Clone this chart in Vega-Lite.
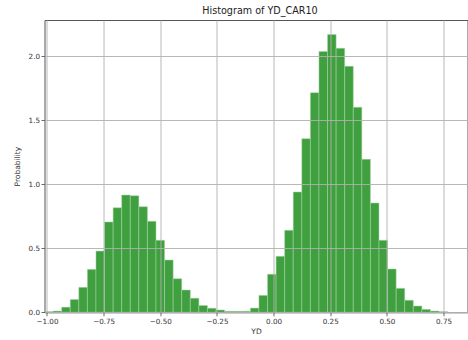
{
  "$schema": "https://vega.github.io/schema/vega-lite/v6.json",
  "autosize": "none",
  "width": 423,
  "height": 292.3,
  "padding": {"left": 44.5, "top": 20, "right": 0.5, "bottom": 27.7},
  "title": {
    "text": "Histogram of YD_CAR10",
    "font": "DejaVu Sans",
    "fontSize": 9.6,
    "fontWeight": "normal",
    "color": "#222222",
    "baseline": "alphabetic",
    "offset": 5,
    "dx": 4,
    "dy": 9
  },
  "data": {
    "values": [
      {"bin_start": -1.01100, "bin_end": -0.97315, "density": 0.005},
      {"bin_start": -0.97315, "bin_end": -0.93530, "density": 0.010},
      {"bin_start": -0.93530, "bin_end": -0.89745, "density": 0.040},
      {"bin_start": -0.89745, "bin_end": -0.85960, "density": 0.100},
      {"bin_start": -0.85960, "bin_end": -0.82175, "density": 0.195},
      {"bin_start": -0.82175, "bin_end": -0.78390, "density": 0.335},
      {"bin_start": -0.78390, "bin_end": -0.74605, "density": 0.478},
      {"bin_start": -0.74605, "bin_end": -0.70820, "density": 0.705},
      {"bin_start": -0.70820, "bin_end": -0.67035, "density": 0.816},
      {"bin_start": -0.67035, "bin_end": -0.63250, "density": 0.915},
      {"bin_start": -0.63250, "bin_end": -0.59465, "density": 0.910},
      {"bin_start": -0.59465, "bin_end": -0.55680, "density": 0.824},
      {"bin_start": -0.55680, "bin_end": -0.51895, "density": 0.710},
      {"bin_start": -0.51895, "bin_end": -0.48110, "density": 0.562},
      {"bin_start": -0.48110, "bin_end": -0.44325, "density": 0.408},
      {"bin_start": -0.44325, "bin_end": -0.40540, "density": 0.262},
      {"bin_start": -0.40540, "bin_end": -0.36755, "density": 0.174},
      {"bin_start": -0.36755, "bin_end": -0.32970, "density": 0.110},
      {"bin_start": -0.32970, "bin_end": -0.29185, "density": 0.053},
      {"bin_start": -0.29185, "bin_end": -0.25400, "density": 0.032},
      {"bin_start": -0.25400, "bin_end": -0.21615, "density": 0.018},
      {"bin_start": -0.21615, "bin_end": -0.17830, "density": 0.008},
      {"bin_start": -0.17830, "bin_end": -0.14045, "density": 0.008},
      {"bin_start": -0.14045, "bin_end": -0.10260, "density": 0.009},
      {"bin_start": -0.10260, "bin_end": -0.06475, "density": 0.033},
      {"bin_start": -0.06475, "bin_end": -0.02690, "density": 0.132},
      {"bin_start": -0.02690, "bin_end": 0.01095, "density": 0.297},
      {"bin_start": 0.01095, "bin_end": 0.04880, "density": 0.437},
      {"bin_start": 0.04880, "bin_end": 0.08665, "density": 0.640},
      {"bin_start": 0.08665, "bin_end": 0.12450, "density": 0.939},
      {"bin_start": 0.12450, "bin_end": 0.16235, "density": 1.355},
      {"bin_start": 0.16235, "bin_end": 0.20020, "density": 1.714},
      {"bin_start": 0.20020, "bin_end": 0.23805, "density": 2.036},
      {"bin_start": 0.23805, "bin_end": 0.27590, "density": 2.168},
      {"bin_start": 0.27590, "bin_end": 0.31375, "density": 2.060},
      {"bin_start": 0.31375, "bin_end": 0.35160, "density": 1.920},
      {"bin_start": 0.35160, "bin_end": 0.38945, "density": 1.600},
      {"bin_start": 0.38945, "bin_end": 0.42730, "density": 1.194},
      {"bin_start": 0.42730, "bin_end": 0.46515, "density": 0.853},
      {"bin_start": 0.46515, "bin_end": 0.50300, "density": 0.562},
      {"bin_start": 0.50300, "bin_end": 0.54085, "density": 0.338},
      {"bin_start": 0.54085, "bin_end": 0.57870, "density": 0.187},
      {"bin_start": 0.57870, "bin_end": 0.61655, "density": 0.094},
      {"bin_start": 0.61655, "bin_end": 0.65440, "density": 0.049},
      {"bin_start": 0.65440, "bin_end": 0.69225, "density": 0.023},
      {"bin_start": 0.69225, "bin_end": 0.73010, "density": 0.010},
      {"bin_start": 0.73010, "bin_end": 0.76795, "density": 0.005}
    ]
  },
  "mark": {
    "type": "bar",
    "fill": "#40a040",
    "stroke": "#a8d4a8",
    "strokeWidth": 0.5
  },
  "encoding": {
    "x": {
      "field": "bin_start",
      "type": "quantitative",
      "title": "YD",
      "scale": {"domain": [-1.011, 0.8557], "nice": false, "zero": false},
      "axis": {
        "values": [-1, -0.75, -0.5, -0.25, 0, 0.25, 0.5, 0.75],
        "format": ".2f",
        "zindex": 1
      }
    },
    "x2": {"field": "bin_end"},
    "y": {
      "field": "density",
      "type": "quantitative",
      "title": "Probability",
      "scale": {"domain": [0, 2.281], "nice": false},
      "axis": {
        "values": [0, 0.5, 1, 1.5, 2],
        "format": ".1f",
        "zindex": 1
      }
    },
    "y2": {"datum": 0}
  },
  "config": {
    "view": {"stroke": "#555555", "strokeWidth": 1},
    "axis": {
      "domain": false,
      "grid": true,
      "gridColor": "#b0b0b0",
      "gridWidth": 0.9,
      "tickColor": "#444444",
      "tickSize": 3.5,
      "tickWidth": 0.8,
      "labelFont": "DejaVu Sans",
      "labelFontSize": 7.2,
      "labelColor": "#333333",
      "labelPadding": 1.5,
      "titleFont": "DejaVu Sans",
      "titleFontSize": 7.5,
      "titleFontWeight": "normal",
      "titleColor": "#333333"
    },
    "axisX": {"titlePadding": 2.5},
    "axisY": {"titlePadding": 7}
  }
}
